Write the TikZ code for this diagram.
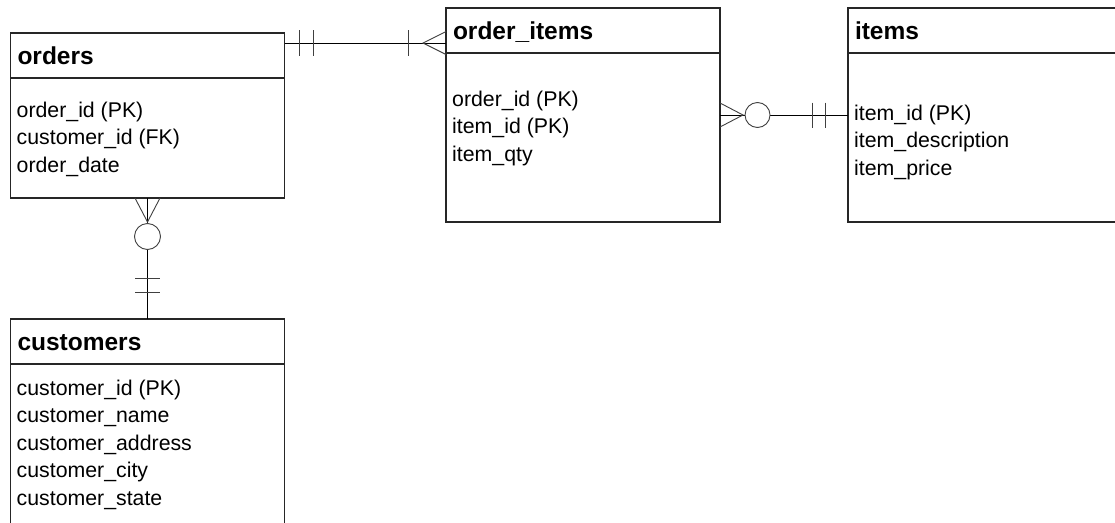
\documentclass[tikz,border=0pt]{standalone}
\usepackage{fontspec}
\setmainfont{Liberation Sans}
\usetikzlibrary{positioning}

\tikzstyle{table} = [rectangle, draw=black!85, line width=1.6pt, outer sep=0pt,
    inner xsep=7pt, inner ysep=0pt, text width=260pt, align=left]
\tikzstyle{header} = [table, minimum height=45pt, text height=17.5pt, text depth=0pt,
    font=\bfseries\fontsize{24.5}{28}\selectfont]
\tikzstyle{attr} = [inner sep=0pt, align=left, font=\fontsize{21.3}{27.5}\selectfont]
\tikzstyle{line} = [draw, line width=1pt]
\tikzstyle{notation} = [draw=black!75, line width=0.9pt]

\begin{document}
\begin{tikzpicture}[x=1pt, y=1pt]
\useasboundingbox (0,0) rectangle (1115,-522);
\fill [white] (0,0) rectangle (1115,-522);
\clip (0,0) rectangle (1115,-522);

%Tables
\node (Orders) [header, anchor=north west] at (10.5,-33) {orders};
\node (OrdersBody) [table, below=0pt of Orders, minimum height=120pt] {};
\node (OrdersAttr) [attr, below right=23.5pt and 6pt of Orders.south west]
    {order\_id (PK)\\customer\_id (FK)\\order\_date};

\node (OrderItems) [header, anchor=north west] at (446,-8) {order\_items};
\node (OrderItemsBody) [table, below=0pt of OrderItems, minimum height=169pt] {};
\node (OrderItemsAttr) [attr, below right=37.5pt and 6pt of OrderItems.south west]
    {order\_id (PK)\\item\_id (PK)\\item\_qty};

\node (Items) [header, anchor=north west] at (848,-8) {items};
\node (ItemsBody) [table, below=0pt of Items, minimum height=169pt] {};
\node (ItemsAttr) [attr, below right=51.5pt and 6pt of Items.south west]
    {item\_id (PK)\\item\_description\\item\_price};

%Below
\node (Customers) [header, below=121pt of OrdersBody] {customers};
\node (CustomersBody) [table, below=0pt of Customers, minimum height=170pt] {};
\node (CustomersAttr) [attr, below right=15.5pt and 6pt of Customers.south west]
    {customer\_id (PK)\\customer\_name\\customer\_address\\customer\_city\\customer\_state};

%orders to order_items
\coordinate (OrdersRight) at ([yshift=-10pt]Orders.north east);
\coordinate (OrderItemsLeft) at (OrdersRight -| OrderItems.west);
\path [line] (OrdersRight) -- (OrderItemsLeft);
\path [notation] ([xshift=15pt]OrdersRight) ++(0,13) -- ++(0,-26)
    ([xshift=29pt]OrdersRight) ++(0,13) -- ++(0,-26);
\path [notation] ([xshift=-38pt]OrderItemsLeft) ++(0,13) -- ++(0,-26);
\path [notation] ([yshift=11.5pt]OrderItemsLeft) -- ([xshift=-23pt]OrderItemsLeft)
    -- ([yshift=-11.5pt]OrderItemsLeft);

%order_items to items
\coordinate (OrderItemsRight) at ([yshift=-62pt]OrderItemsBody.north east);
\coordinate (ItemsLeft) at (OrderItemsRight -| ItemsBody.west);
\path [line] (OrderItemsRight) -- (ItemsLeft);
\path [notation] ([yshift=12pt]OrderItemsRight) -- ([xshift=23pt]OrderItemsRight)
    -- ([yshift=-12pt]OrderItemsRight);
\path [notation, fill=white] ([xshift=37.5pt]OrderItemsRight) circle (12.5pt);
\path [notation] ([xshift=-36pt]ItemsLeft) ++(0,12.5) -- ++(0,-25)
    ([xshift=-23pt]ItemsLeft) ++(0,12.5) -- ++(0,-25);

%orders to customers
\path [line] (OrdersBody.south) -- (Customers.north);
\path [notation] ([xshift=-12.5pt]OrdersBody.south) -- ([yshift=-24pt]OrdersBody.south)
    -- ([xshift=12.5pt]OrdersBody.south);
\path [notation, fill=white] ([yshift=-38.5pt]OrdersBody.south) circle (13pt);
\path [notation] ([yshift=41pt]Customers.north) ++(-12.5,0) -- ++(25,0)
    ([yshift=27pt]Customers.north) ++(-12.5,0) -- ++(25,0);

\end{tikzpicture}
\end{document}
